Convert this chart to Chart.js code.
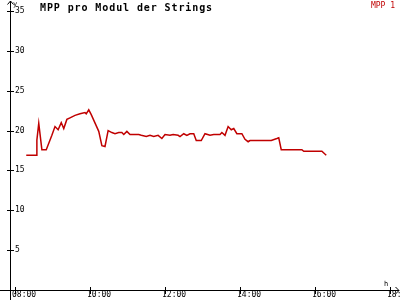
<!DOCTYPE html>
<html>
<head>
<meta charset="utf-8">
<script src="https://cdn.jsdelivr.net/npm/chart.js@4.4.1/dist/chart.umd.min.js"></script>
<style>
  html, body { margin: 0; padding: 0; background: #fff; }
  #chart { display: block; }
</style>
</head>
<body>
<canvas id="chart" width="400" height="300"></canvas>
<script>
// --- data ---
const times = [
  "08:18", "08:34", "08:35", "08:38", "08:43", "08:50", "08:59", "09:04", "09:09", "09:14",
  "09:18", "09:23", "09:28", "09:36", "09:44", "09:52", "09:54", "09:58", "10:02", "10:14",
  "10:19", "10:24", "10:29", "10:35", "10:40", "10:46", "10:51", "10:54", "10:59", "11:04",
  "11:18", "11:22", "11:30", "11:36", "11:42", "11:49", "11:55", "12:00", "12:08", "12:13",
  "12:21", "12:24", "12:30", "12:35", "12:40", "12:46", "12:50", "12:58", "13:04", "13:12",
  "13:18", "13:28", "13:31", "13:36", "13:41", "13:46", "13:50", "13:55", "14:03", "14:08",
  "14:13", "14:16", "14:50", "14:59", "15:02", "15:06", "15:39", "15:42", "16:11", "16:18"
];
const mpp1 = [
  16.9, 16.9, 18.8, 20.9, 17.6, 17.6, 19.4, 20.5, 20.1, 21.0,
  20.25, 21.4, 21.6, 21.9, 22.1, 22.25, 22.1, 22.6, 22.0, 19.9,
  18.1, 18.0, 20.0, 19.75, 19.6, 19.75, 19.75, 19.5, 19.9, 19.5,
  19.5, 19.4, 19.25, 19.4, 19.25, 19.4, 19.0, 19.5, 19.4, 19.5,
  19.4, 19.25, 19.6, 19.4, 19.6, 19.6, 18.75, 18.75, 19.6, 19.4,
  19.5, 19.5, 19.75, 19.4, 20.5, 20.1, 20.25, 19.6, 19.6, 18.9,
  18.6, 18.75, 18.75, 19.0, 19.1, 17.6, 17.6, 17.4, 17.4, 16.9
];
const xTicks = [8, 10, 12, 14, 16, 18];
const yTicks = [5, 10, 15, 20, 25, 30, 35];

const titleText = "MPP pro Modul der Strings";
const seriesName = "MPP 1";
const xUnit = "h";
const yUnit = "y";

const RED = "#c00000";
const MONO = "'DejaVu Sans Mono', 'Liberation Mono', monospace";

function toHours(s) {
  const p = s.split(":");
  return parseInt(p[0], 10) + parseInt(p[1], 10) / 60;
}
function fmtHour(v) {
  return String(Math.round(v)).padStart(2, "0") + ":00";
}

// ==========================
//  axes, crosses, arrows, texts
// ==========================
const decor = {
  id: "decor",
  afterDraw(chart) {
    const ctx = chart.ctx;
    const xs = chart.scales.x, ys = chart.scales.y;
    const x0 = xs.left, y0 = ys.getPixelForValue(0);
    ctx.save();
    ctx.strokeStyle = "#000";
    ctx.lineWidth = 1;
    ctx.beginPath();
    // y axis
    ctx.moveTo(x0 + 0.5, 300);
    ctx.lineTo(x0 + 0.5, 1);
    ctx.moveTo(x0 - 2.5, 4.5); ctx.lineTo(x0 + 0.5, 1); ctx.lineTo(x0 + 3.5, 4.5);
    // x axis
    ctx.moveTo(0, y0 + 0.5);
    ctx.lineTo(399, y0 + 0.5);
    ctx.moveTo(395.5, y0 - 3); ctx.lineTo(399, y0 + 0.5); ctx.lineTo(395.5, y0 + 4);
    // tick crosses
    yTicks.forEach(v => {
      const py = Math.round(ys.getPixelForValue(v)) + 0.5;
      ctx.moveTo(x0 - 3, py); ctx.lineTo(x0 + 4, py);
    });
    xTicks.forEach(v => {
      const px = Math.round(xs.getPixelForValue(v)) + 0.5;
      ctx.moveTo(px, y0 - 3); ctx.lineTo(px, y0 + 4);
    });
    ctx.stroke();

    ctx.fillStyle = "#000";
    ctx.textBaseline = "alphabetic";
    ctx.textAlign = "left";
    ctx.font = "bold 10px " + MONO;
    if ("letterSpacing" in ctx) ctx.letterSpacing = "0.9px";
    ctx.fillText(titleText, 40, 11);
    if ("letterSpacing" in ctx) ctx.letterSpacing = "0px";

    ctx.font = "7px " + MONO;
    ctx.fillText(yUnit, 13, 6);
    ctx.fillText(xUnit, 384, 286);

    ctx.fillStyle = RED;
    ctx.font = "8px " + MONO;
    ctx.textAlign = "right";
    ctx.fillText(seriesName, 395, 8);
    ctx.restore();
  }
};

const chart = new Chart(document.getElementById("chart"), {
  type: "line",
  data: {
    datasets: [{
      label: seriesName,
      data: times.map((t, i) => ({ x: toHours(t), y: mpp1[i] })),
      borderColor: RED,
      borderWidth: 1.5,
      pointRadius: 0,
      tension: 0,
      fill: false
    }]
  },
  options: {
    responsive: false,
    animation: false,
    layout: { padding: { left: 10, right: 2, top: 3, bottom: 0 } },
    plugins: {
      legend: { display: false },
      title: { display: false },
      tooltip: { enabled: false }
    },
    scales: {
      x: {
        type: "linear",
        min: 8 - 5 / 37.5,
        max: 8 - 5 / 37.5 + 388 / 37.5,
        afterBuildTicks: s => { s.ticks = xTicks.map(v => ({ value: v })); },
        afterFit: s => { s.paddingLeft = 0; s.paddingRight = 0; },
        grid: { display: false, drawTicks: false },
        border: { display: false },
        ticks: {
          autoSkip: false,
          maxRotation: 0,
          minRotation: 0,
          align: "start",
          labelOffset: -3,
          padding: 1,
          color: "#000",
          font: { family: MONO, size: 8, lineHeight: 1 },
          callback: v => fmtHour(v)
        }
      },
      y: {
        min: 0,
        max: 36,
        afterBuildTicks: s => { s.ticks = yTicks.map(v => ({ value: v })); },
        afterFit: s => { s.width = 0; s.paddingTop = 0; s.paddingBottom = 0; },
        grid: { display: false, drawTicks: false },
        border: { display: false },
        ticks: {
          mirror: true,
          padding: 5,
          color: "#000",
          font: { family: MONO, size: 8, lineHeight: 1 }
        }
      }
    }
  },
  plugins: [decor]
});
</script>
</body>
</html>
